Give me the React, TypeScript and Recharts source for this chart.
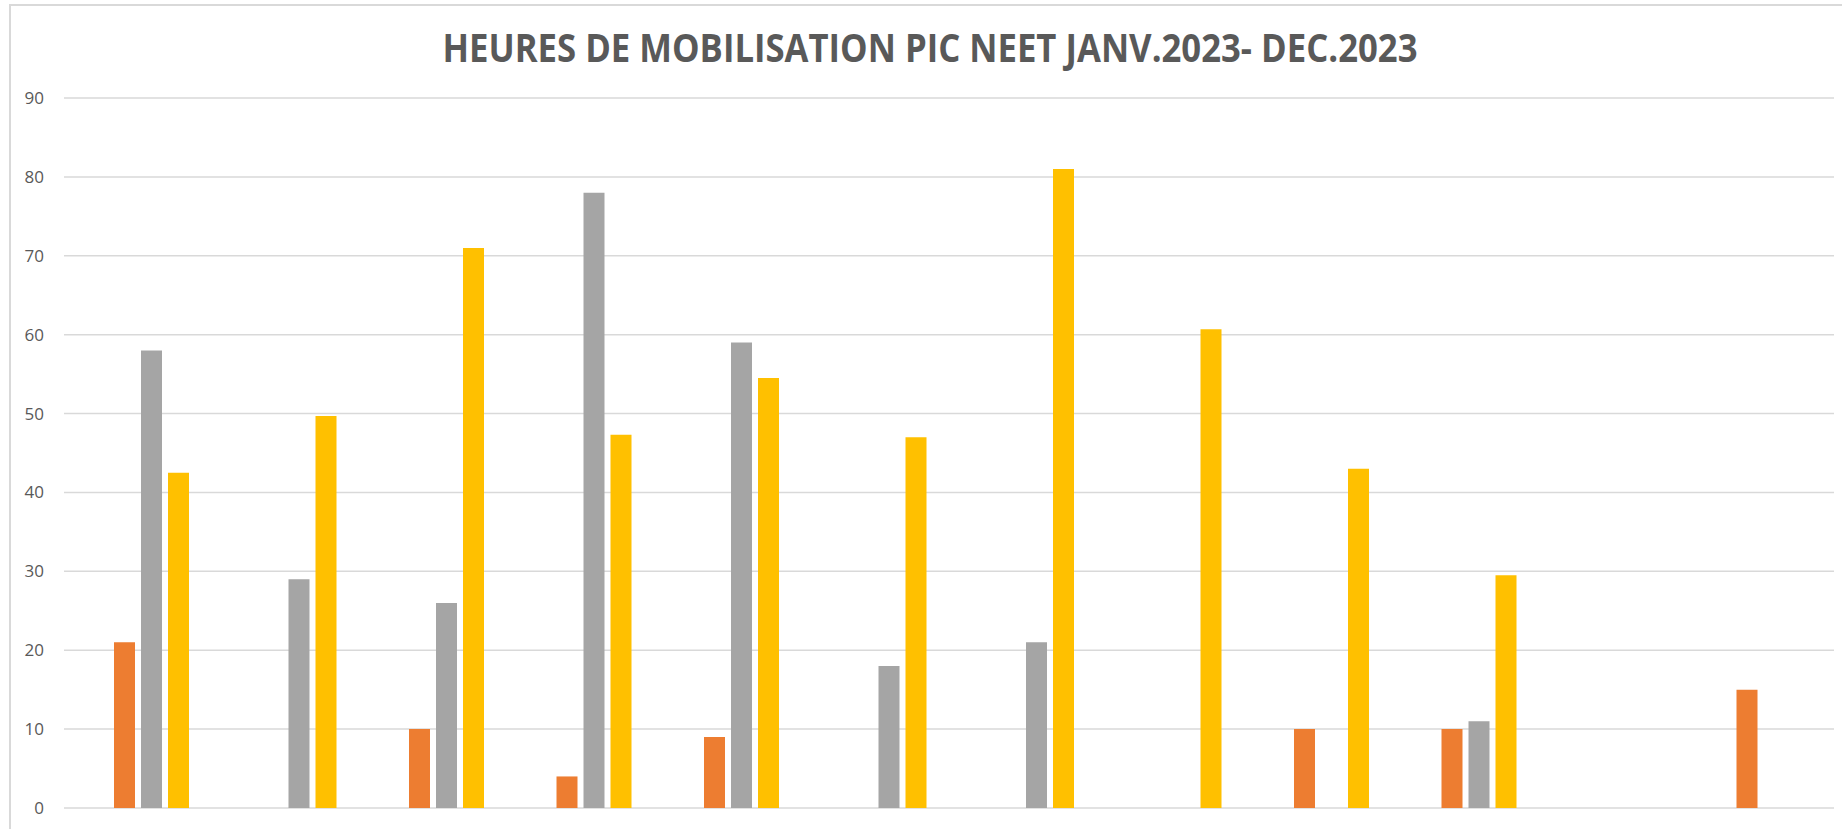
import { BarChart, Bar, XAxis, YAxis, CartesianGrid } from 'recharts'

const months = ['Janv', 'Févr', 'Mars', 'Avr', 'Mai', 'Juin', 'Juil', 'Août', 'Sept', 'Oct', 'Nov', 'Déc']

// four series per month, the first one has no values
const serie1: (number | null)[] = [null, null, null, null, null, null, null, null, null, null, null, null]
const serie2: (number | null)[] = [21, null, 10, 4, 9, null, null, null, 10, 10, null, 15]
const serie3: (number | null)[] = [58, 29, 26, 78, 59, 18, 21, null, null, 11, null, null]
const serie4: (number | null)[] = [42.5, 49.7, 71, 47.3, 54.5, 47, 81, 60.7, 43, 29.5, null, null]

const yTicks = [0, 10, 20, 30, 40, 50, 60, 70, 80, 90]

const title = 'HEURES DE MOBILISATION PIC NEET JANV.2023- DEC.2023'

const data = months.map((m, i) => ({
  month: m,
  serie1: serie1[i],
  serie2: serie2[i],
  serie3: serie3[i],
  serie4: serie4[i],
}))

export default function App() {
  return (
    <div style={{ position: 'absolute', left: 0, top: 0, width: 1842, height: 829, background: '#fff', overflow: 'hidden' }}>
      {/* chart frame, only top and left edges are visible */}
      <div
        style={{
          position: 'absolute',
          left: 9,
          top: 4,
          width: 1831,
          height: 823,
          borderTop: '2px solid #d9d9d9',
          borderLeft: '2px solid #d9d9d9',
        }}
      />
      <svg width={1842} height={90} style={{ position: 'absolute', left: 0, top: 0, display: 'block' }}>
        <text
          x={930}
          y={62}
          textAnchor="middle"
          fontFamily="'Open Sans', sans-serif"
          fontWeight={700}
          fontSize={40}
          fill="#595959"
          textLength={975}
          lengthAdjust="spacingAndGlyphs"
        >
          {title}
        </text>
      </svg>
      <div style={{ position: 'absolute', left: 0, top: 0 }}>
        <BarChart
          width={1842}
          height={829}
          data={data}
          margin={{ top: 98, right: 8, bottom: 21, left: 0 }}
          barSize={21}
          barGap={6}
        >
          <CartesianGrid vertical={false} stroke="#d9d9d9" strokeWidth={1.5} />
          <XAxis dataKey="month" hide />
          <YAxis
            width={64}
            domain={[0, 90]}
            ticks={yTicks}
            axisLine={false}
            tickLine={false}
            tickMargin={14}
            tick={{ fill: '#595959', fontSize: 17, fontFamily: "'Open Sans', sans-serif" }}
          />
          <Bar dataKey="serie1" fill="#4472C4" isAnimationActive={false} />
          <Bar dataKey="serie2" fill="#ED7D31" isAnimationActive={false} />
          <Bar dataKey="serie3" fill="#A5A5A5" isAnimationActive={false} />
          <Bar dataKey="serie4" fill="#FFC000" isAnimationActive={false} />
        </BarChart>
      </div>
    </div>
  )
}
